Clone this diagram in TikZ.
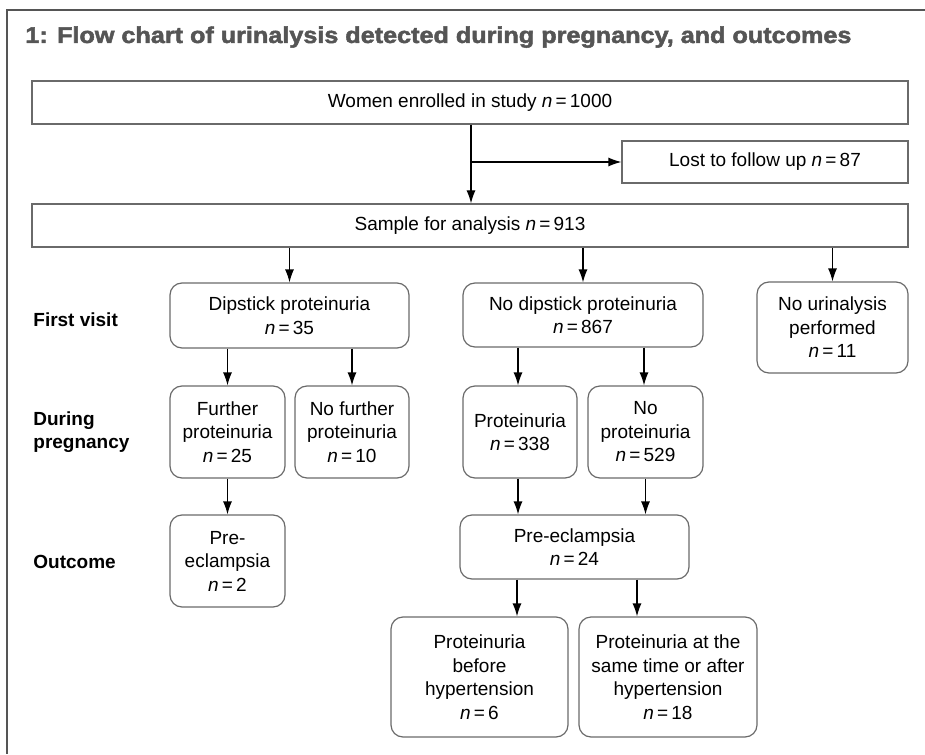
\documentclass[tikz,border=0pt]{standalone}
\usepackage{fontspec}
\setmainfont{Liberation Sans}
\newfontfamily\titlefont[FakeBold=2]{Liberation Sans Bold}
\usetikzlibrary{arrows.meta}
\definecolor{framegrey}{HTML}{555555}
\definecolor{boxgrey}{HTML}{6A6A6A}
\newcommand{\nval}[1]{\textit{n}\,=\,#1}

\begin{document}
\begin{tikzpicture}[x=0.5pt, y=-0.5pt,
	box/.style={draw=boxgrey, line width=0.6pt, inner sep=0pt, align=center, font=\fontsize{9.5}{11.75}\selectfont},
	rbox/.style={box, rounded corners=6pt},
	lbl/.style={anchor=west, align=left, inner sep=0pt, font=\fontsize{9.5}{11.75}\selectfont\bfseries},
	arr/.style={-{Latex[length=6.5pt,width=4.5pt]}, line width=0.6pt}]
	\useasboundingbox (0,0) rectangle (925,754);

	%Ramme og tittel
	\draw[framegrey, line width=1.3pt] (925,10) -- (7,10) -- (7,754);
	\node[anchor=base west, inner sep=0pt, text=framegrey] (title) at (25,43)
		{\resizebox{413pt}{\height}{\fontsize{11.4}{13}\titlefont 1: Flow chart of urinalysis detected during pregnancy, and outcomes}};

	%Nodene går her
	\node[box, minimum width=438pt, minimum height=21.5pt] (enrolled) at (470,102.5) {Women enrolled in study \nval{1000}};
	\node[box, minimum width=143pt, minimum height=21pt] (lost) at (765,162) {Lost to follow up \nval{87}};
	\node[box, minimum width=438pt, minimum height=21.5pt] (sample) at (470,225.5) {Sample for analysis \nval{913}};

	\node[rbox, minimum width=119.5pt, minimum height=32.5pt] (dip) at (289.5,315.5) {Dipstick proteinuria\\\nval{35}};
	\node[rbox, minimum width=120pt, minimum height=32pt] (nodip) at (583,315) {No dipstick proteinuria\\\nval{867}};
	\node[rbox, minimum width=75.5pt, minimum height=45.5pt] (nouri) at (832.5,327.5) {No urinalysis\\performed\\\nval{11}};

	\node[rbox, minimum width=57.5pt, minimum height=46pt] (further) at (227.5,432) {Further\\proteinuria\\\nval{25}};
	\node[rbox, minimum width=57pt, minimum height=46pt] (nofurther) at (352,432) {No further\\proteinuria\\\nval{10}};
	\node[rbox, minimum width=57pt, minimum height=46pt] (prot) at (520,432) {Proteinuria\\\nval{338}};
	\node[rbox, minimum width=57.5pt, minimum height=46pt] (noprot) at (645.5,432) {No\\proteinuria\\\nval{529}};

	\node[rbox, minimum width=57.5pt, minimum height=46pt] (pre1) at (227.5,561) {Pre-\\eclampsia\\\nval{2}};
	\node[rbox, minimum width=114.5pt, minimum height=32pt] (pre2) at (574.5,547) {Pre-eclampsia\\\nval{24}};

	\node[rbox, minimum width=88.5pt, minimum height=60pt] (before) at (479.5,677) {Proteinuria\\before\\hypertension\\\nval{6}};
	\node[rbox, minimum width=89pt, minimum height=60pt] (after) at (668,677) {Proteinuria at the\\same time or after\\hypertension\\\nval{18}};

	%Radene til venstre
	\node[lbl] (visit) at (33,320) {First visit};
	\node[lbl] (during) at (33,432) {During\\pregnancy};
	\node[lbl] (outcome) at (33,562) {Outcome};

	%Kantene defineres her
	\coordinate (split) at ([xshift=0.5pt]enrolled.south |- lost.west);
	\draw[arr] ([xshift=0.5pt]enrolled.south) -- ([xshift=0.5pt]enrolled.south |- sample.north);
	\draw[arr] (split) -- (lost.west);
	\draw[arr] (dip.north |- sample.south) -- (dip.north);
	\draw[arr] (nodip.north |- sample.south) -- (nodip.north);
	\draw[arr] (nouri.north |- sample.south) -- (nouri.north);
	\draw[arr] (further.north |- dip.south) -- (further.north);
	\draw[arr] (nofurther.north |- dip.south) -- (nofurther.north);
	\draw[arr] ([xshift=-1pt]prot.north |- nodip.south) -- ([xshift=-1pt]prot.north);
	\draw[arr] ([xshift=-0.75pt]noprot.north |- nodip.south) -- ([xshift=-0.75pt]noprot.north);
	\draw[arr] (further) -- (pre1);
	\draw[arr] ([xshift=-1pt]prot.south) -- ([xshift=-1pt]prot.south |- pre2.north);
	\draw[arr] (noprot.south) -- (noprot.south |- pre2.north);
	\draw[arr] ([xshift=-28.75pt]pre2.south) -- ([xshift=-28.75pt]pre2.south |- before.north);
	\draw[arr] ([xshift=31.25pt]pre2.south) -- ([xshift=31.25pt]pre2.south |- after.north);
\end{tikzpicture}
\end{document}
